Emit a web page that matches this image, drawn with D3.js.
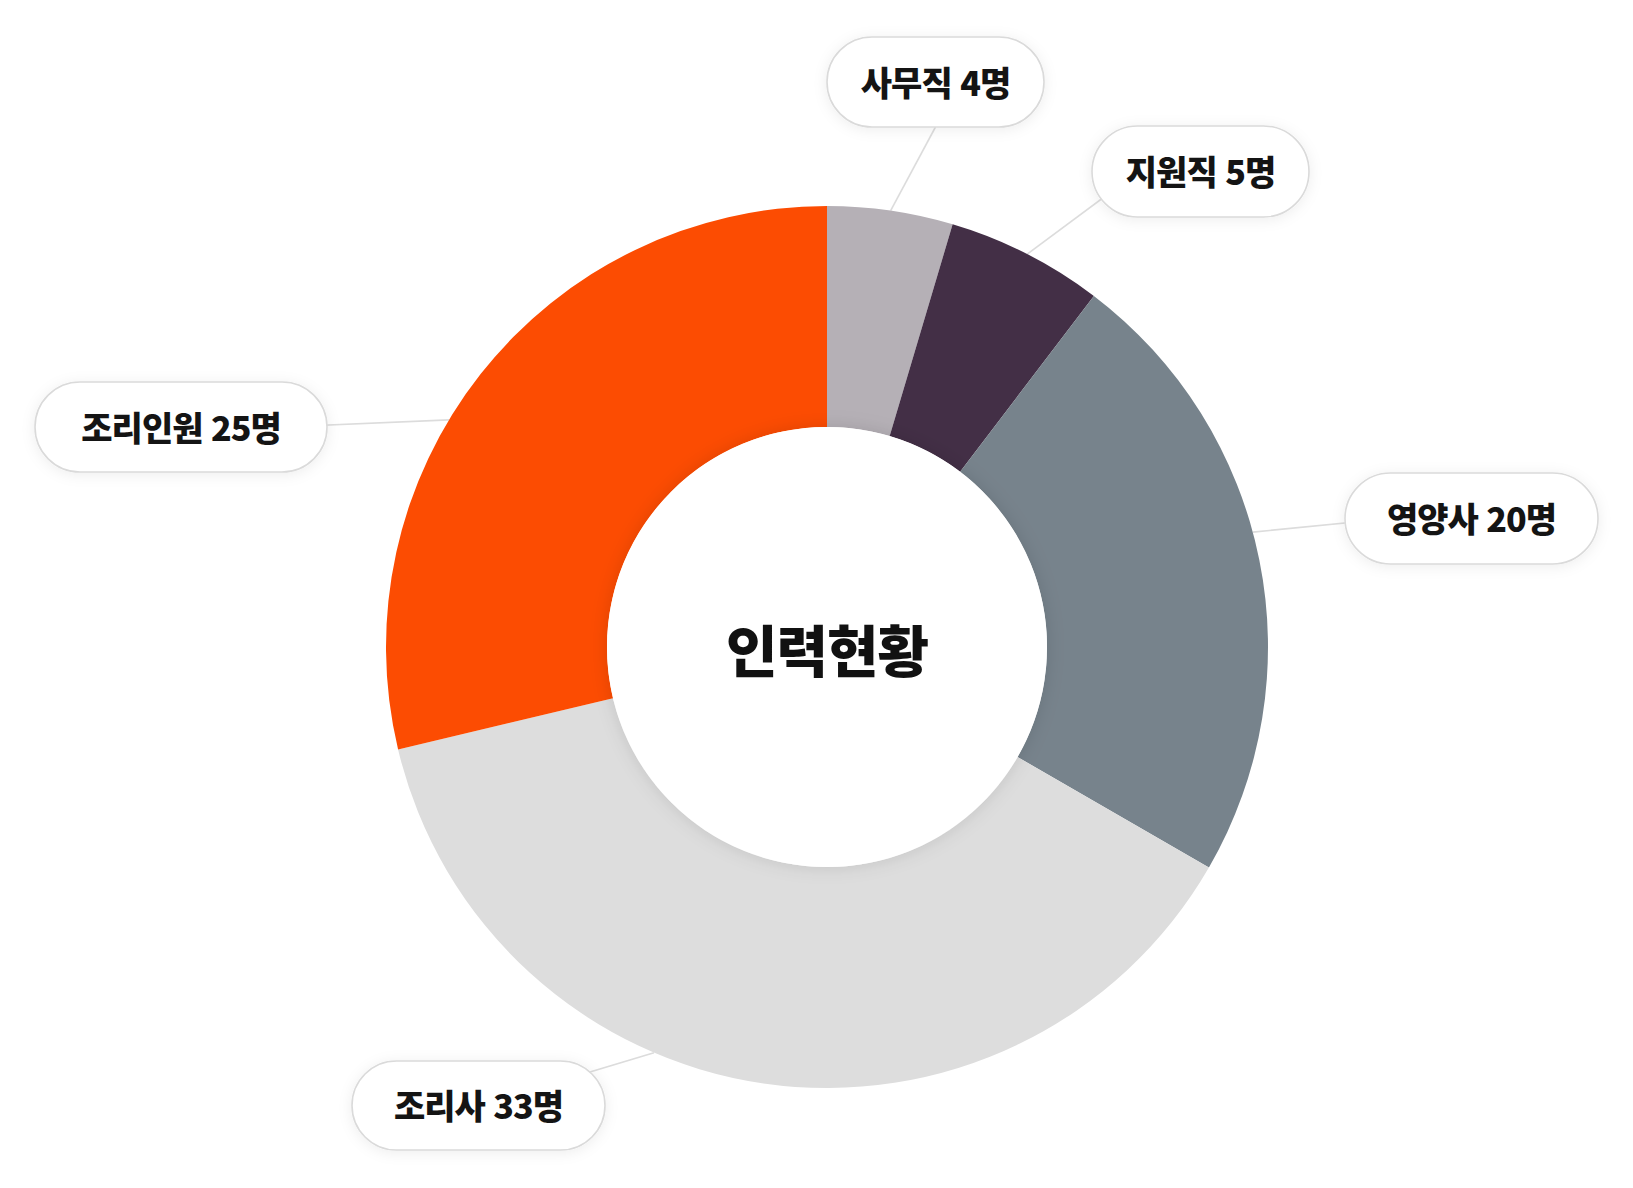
<!DOCTYPE html>
<html lang="ko">
<head>
<meta charset="utf-8">
<script src="https://cdn.jsdelivr.net/npm/d3@7"></script>
<style>
  html, body { margin: 0; padding: 0; background: #ffffff; }
  svg { display: block; }
  text { font-family: "Noto Sans CJK KR", "Noto Sans", sans-serif; }
</style>
</head>
<body>
<svg id="chart" width="1633" height="1188"></svg>
<script>
// ---- data ----
const categories = ["사무직", "지원직", "영양사", "조리사", "조리인원"];
const values = [4, 5, 20, 33, 25];
const unit = "명";
const colors = ["#b5b0b6", "#432f46", "#77838c", "#dddddd", "#fc4c02"];
const centerTitle = "인력현황";

// ---- layout (label pill positions & leader anchors) ----
const labelBoxes = [
  { cx: 935.5,  cy: 82,    w: 217, h: 90, leadDeg: 8.3,   tx: 0,   ty: 45 },
  { cx: 1200.5, cy: 171.5, w: 217, h: 91, leadDeg: 27.0,  tx: -62, ty: 0 },
  { cx: 1471.5, cy: 518.5, w: 253, h: 91, leadDeg: 74.9,  tx: -81, ty: 0 },
  { cx: 478.5,  cy: 1105.5,w: 253, h: 89, leadDeg: 203.1, tx: 0,   ty: 0 },
  { cx: 181,    cy: 427,   w: 292, h: 90, leadDeg: 301,   tx: 101, ty: 0 }
];
const center = { x: 827, y: 647 };
const outerR = 441, innerR = 220;

const svg = d3.select("#chart");
const defs = svg.append("defs");
const f1 = defs.append("filter").attr("id", "boxShadow")
  .attr("x", "-30%").attr("y", "-50%").attr("width", "160%").attr("height", "200%");
f1.append("feDropShadow").attr("dx", 0).attr("dy", 2).attr("stdDeviation", 7)
  .attr("flood-color", "#000").attr("flood-opacity", 0.07);
const f2 = defs.append("filter").attr("id", "innerShadow")
  .attr("x", "-30%").attr("y", "-30%").attr("width", "160%").attr("height", "160%");
f2.append("feDropShadow").attr("dx", 0).attr("dy", 0).attr("stdDeviation", 9)
  .attr("flood-color", "#000").attr("flood-opacity", 0.12);

const pie = d3.pie().sort(null).value(d => d.value);
const arcs = pie(categories.map((c, i) => ({ name: c, value: values[i], color: colors[i] })));
const arcGen = d3.arc().innerRadius(innerR).outerRadius(outerR);

// leader lines (under the donut and the pills)
const lines = svg.append("g").attr("class", "leaders");
labelBoxes.forEach(b => {
  const a = b.leadDeg * Math.PI / 180;
  const x0 = center.x + outerR * Math.sin(a);
  const y0 = center.y - outerR * Math.cos(a);
  lines.append("line")
    .attr("x1", x0).attr("y1", y0)
    .attr("x2", b.cx + b.tx).attr("y2", b.cy + b.ty)
    .attr("stroke", "#dcdcdc").attr("stroke-width", 1.6);
});

// donut
const g = svg.append("g").attr("transform", `translate(${center.x},${center.y})`);
g.selectAll("path.slice").data(arcs).join("path")
  .attr("class", "slice")
  .attr("d", arcGen)
  .attr("fill", d => d.data.color);

// inner white disc with soft shadow
g.append("circle").attr("r", innerR).attr("fill", "#ffffff").attr("filter", "url(#innerShadow)");

g.append("text")
  .attr("x", 0).attr("y", 0)
  .attr("text-anchor", "middle").attr("dominant-baseline", "central")
  .attr("font-size", 56).attr("font-weight", 900)
  .attr("letter-spacing", "-1px")
  .attr("fill", "#111111")
  .text(centerTitle);

// label pills
const pills = svg.append("g").attr("class", "pills");
arcs.forEach((d, i) => {
  const b = labelBoxes[i];
  const pg = pills.append("g").attr("transform", `translate(${b.cx},${b.cy})`);
  pg.append("rect")
    .attr("x", -b.w / 2).attr("y", -b.h / 2)
    .attr("width", b.w).attr("height", b.h)
    .attr("rx", b.h / 2).attr("ry", b.h / 2)
    .attr("fill", "#ffffff")
    .attr("stroke", "#dadada").attr("stroke-width", 1.6)
    .attr("filter", "url(#boxShadow)");
  pg.append("text")
    .attr("x", 0).attr("y", -1)
    .attr("text-anchor", "middle").attr("dominant-baseline", "central")
    .attr("font-size", 34).attr("font-weight", 900)
    .attr("letter-spacing", "-1px")
    .attr("fill", "#141414")
    .text(`${d.data.name} ${d.data.value}${unit}`);
});
</script>
</body>
</html>
